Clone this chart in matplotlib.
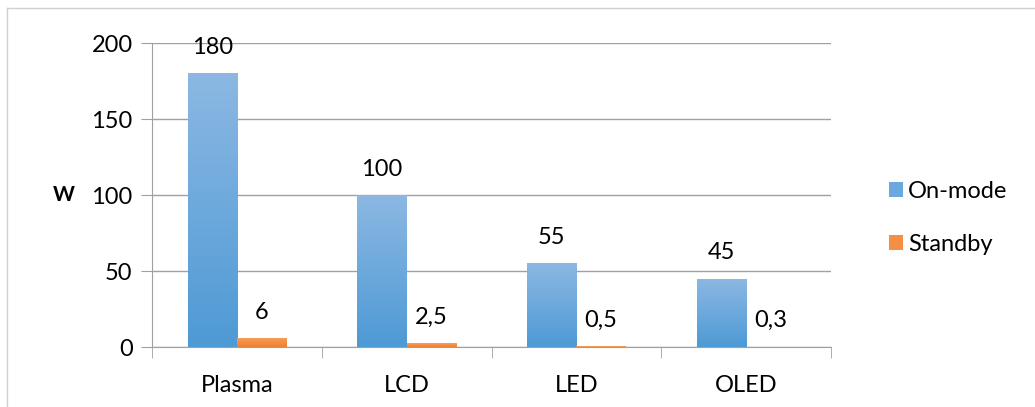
import numpy as np
import matplotlib.pyplot as plt
from matplotlib.colors import LinearSegmentedColormap
from matplotlib.lines import Line2D
from matplotlib.patches import Patch

# Power consumption per display technology
categories = ['Plasma', 'LCD', 'LED', 'OLED']
on_mode = [180, 100, 55, 45]
standby = [6, 2.5, 0.5, 0.3]
on_labels = ['180', '100', '55', '45']
standby_labels = ['6', '2,5', '0,5', '0,3']

plt.rcParams['font.family'] = ['Lato', 'DejaVu Sans']

fig = plt.figure(figsize=(10.35, 4.07), dpi=100)
ax = fig.add_axes([152 / 1035, 1 - 347 / 407, (831 - 152) / 1035, (347 - 43) / 407])

blue_cmap = LinearSegmentedColormap.from_list('b', ['#4E9AD5', '#8CB8E3'])
orange_cmap = LinearSegmentedColormap.from_list('o', ['#EE7F2C', '#F7A060'])

x = np.arange(len(categories))
w = 0.29


def gradient_bars(xs, vals, cmap):
    bars = ax.bar(xs, vals, w, color='none', edgecolor='none', zorder=3)
    grad = np.linspace(0, 1, 256).reshape(-1, 1)
    for b in bars:
        x0 = b.get_x()
        im = ax.imshow(grad, cmap=cmap, origin='lower', aspect='auto',
                       extent=[x0, x0 + b.get_width(), 0, b.get_height()], zorder=3)
        im.set_clip_path(b)
    return bars


gradient_bars(x - w / 2, on_mode, blue_cmap)
gradient_bars(x + w / 2, standby, orange_cmap)

for xi, v, s in zip(x - w / 2, on_mode, on_labels):
    ax.annotate(s, (xi, v), xytext=(0, 11), textcoords='offset points',
                ha='center', va='bottom', fontsize=17)
for xi, v, s in zip(x + w / 2, standby, standby_labels):
    ax.annotate(s, (xi, v), xytext=(0, 11), textcoords='offset points',
                ha='center', va='bottom', fontsize=17)

ax.set_xlim(-0.5, len(categories) - 0.5)
ax.set_ylim(0, 200)
ax.set_yticks([0, 50, 100, 150, 200])
ax.set_xticks(x)
ax.set_xticklabels(categories)
ax.set_xticks(np.arange(-0.5, len(categories)), minor=True)
ax.tick_params(axis='x', which='major', length=0, pad=20, labelsize=17)
ax.tick_params(axis='x', which='minor', length=8, color='#A0A0A0')
ax.tick_params(axis='y', length=8, color='#A0A0A0', pad=6, labelsize=17)
ax.yaxis.grid(True, color='#A0A0A0', linewidth=1)
ax.set_axisbelow(True)
for side in ['top', 'right']:
    ax.spines[side].set_visible(False)
for side in ['left', 'bottom']:
    ax.spines[side].set_color('#A0A0A0')

ax.set_ylabel('W', rotation=0, fontsize=15, fontweight='bold', labelpad=20, va='center')

handles = [Patch(facecolor='#6AA8DE'), Patch(facecolor='#F58F45')]
fig.legend(handles, ['On-mode', 'Standby'], loc='upper left',
           bbox_to_anchor=(868 / 1035, 1 - 160 / 407), frameon=False,
           fontsize=17, handlelength=0.6, handleheight=0.6,
           handletextpad=0.2, labelspacing=1.35)

# outer chart frame
fig.add_artist(Line2D([7 / 1035, 7 / 1035], [0, 1 - 8 / 407], color='#D0D0D0', lw=1))
fig.add_artist(Line2D([7 / 1035, 1], [1 - 8 / 407, 1 - 8 / 407], color='#D0D0D0', lw=1))

fig.savefig('out.png', dpi=100)
